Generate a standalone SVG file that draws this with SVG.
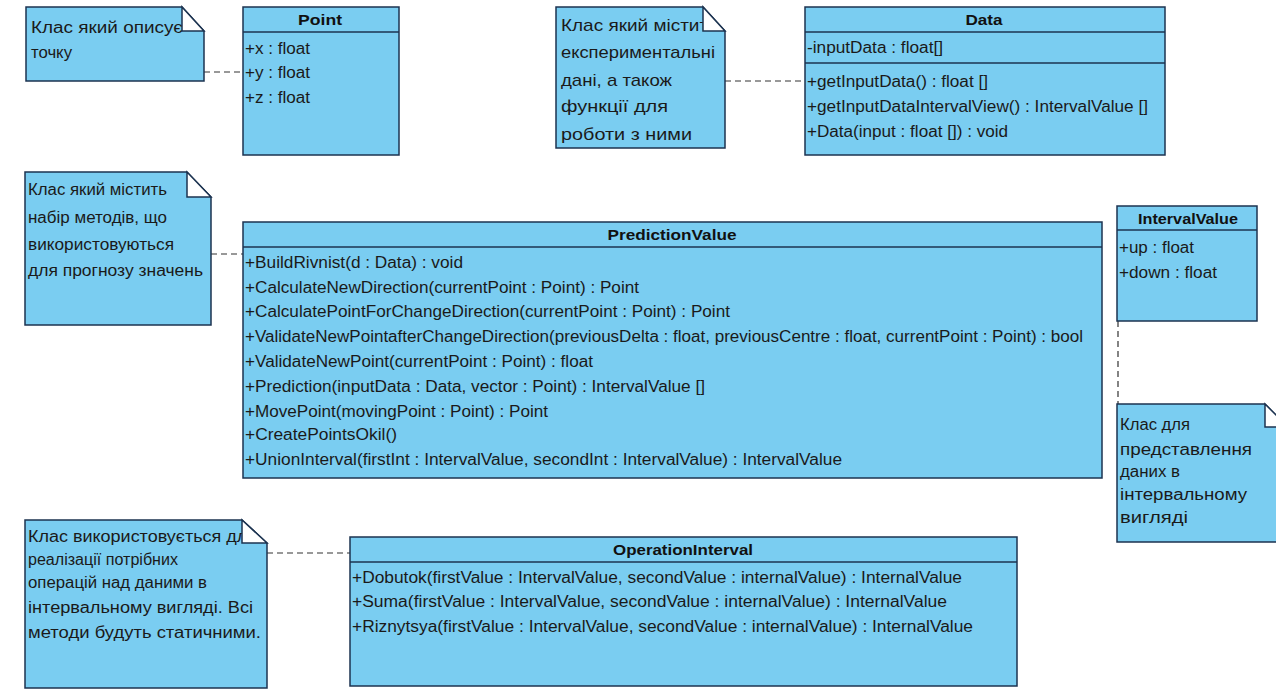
<svg xmlns="http://www.w3.org/2000/svg" width="1276" height="691" viewBox="0 0 1276 691">
  <style>
    .box { fill: #7acdf1; stroke: #1c3350; stroke-width: 1.5; }
    .sep { stroke: #1c3350; stroke-width: 1.5; fill: none; }
    .fold { fill: #ffffff; stroke: #1c3350; stroke-width: 1.5; stroke-linejoin: miter; }
    .hdr { font-family: "Liberation Sans", Arial, sans-serif; font-size: 15px; font-weight: bold; fill: #111111; }
    .mem { font-family: "Liberation Sans", Arial, sans-serif; font-size: 16px; fill: #1a1a1a; }
    .note { font-family: "Liberation Sans", Arial, sans-serif; font-size: 16px; fill: #1a1a1a; }
    .big { font-size: 17px; }
    .dash { stroke: #333333; stroke-width: 1.2; stroke-dasharray: 6 4; fill: none; }
  </style>
  <rect width="1276" height="691" fill="#ffffff"/>

  <!-- Connectors (note anchors) -->
  <g id="connectors">
    <line class="dash" x1="204" y1="72" x2="243" y2="72"/>
    <line class="dash" x1="725" y1="81" x2="805" y2="81"/>
    <line class="dash" x1="211" y1="254" x2="243" y2="254"/>
    <line class="dash" x1="1118" y1="321" x2="1118" y2="404"/>
    <line class="dash" x1="267" y1="553" x2="350" y2="553"/>
  </g>

  <!-- Note: Point description -->
  <g id="note-point">
    <path class="box" d="M26,7 H182 L204,31 V81 H26 Z"/>
    <text class="note" x="31" y="33" textLength="152" lengthAdjust="spacingAndGlyphs">Клас який описує</text>
    <text class="note" x="31" y="58" textLength="41" lengthAdjust="spacingAndGlyphs">точку</text>
    <path class="fold" d="M182,7 V31 H204 Z"/>
  </g>

  <!-- Class: Point -->
  <g id="class-point">
    <rect class="box" x="243" y="7" width="156" height="148"/>
    <line class="sep" x1="243" y1="32" x2="399" y2="32"/>
    <text class="hdr" x="320" y="25" text-anchor="middle" textLength="44" lengthAdjust="spacingAndGlyphs">Point</text>
    <text class="mem" x="245" y="54" textLength="65" lengthAdjust="spacingAndGlyphs">+x : float</text>
    <text class="mem" x="245" y="78" textLength="65" lengthAdjust="spacingAndGlyphs">+y : float</text>
    <text class="mem" x="245" y="103" textLength="65" lengthAdjust="spacingAndGlyphs">+z : float</text>
  </g>

  <!-- Note: Data description -->
  <g id="note-data">
    <path class="box" d="M556,7 H703 L725,31 V148 H556 Z"/>
    <text class="note big" x="561" y="31" textLength="157" lengthAdjust="spacingAndGlyphs">Клас який містить</text>
    <text class="note big" x="561" y="58" textLength="154" lengthAdjust="spacingAndGlyphs">експериментальні</text>
    <text class="note big" x="561" y="86" textLength="111" lengthAdjust="spacingAndGlyphs">дані, а також</text>
    <text class="note big" x="561" y="112" textLength="107" lengthAdjust="spacingAndGlyphs">функції для</text>
    <text class="note big" x="561" y="140" textLength="131" lengthAdjust="spacingAndGlyphs">роботи з ними</text>
    <path class="fold" d="M703,7 V31 H725 Z"/>
  </g>

  <!-- Class: Data -->
  <g id="class-data">
    <rect class="box" x="805" y="7" width="360" height="148"/>
    <line class="sep" x1="805" y1="32" x2="1165" y2="32"/>
    <line class="sep" x1="805" y1="63" x2="1165" y2="63"/>
    <text class="hdr" x="984" y="25" text-anchor="middle" textLength="37" lengthAdjust="spacingAndGlyphs">Data</text>
    <text class="mem" x="807" y="53" textLength="136" lengthAdjust="spacingAndGlyphs">-inputData : float[]</text>
    <text class="mem" x="807" y="87" textLength="181" lengthAdjust="spacingAndGlyphs">+getInputData() : float []</text>
    <text class="mem" x="807" y="112" textLength="341" lengthAdjust="spacingAndGlyphs">+getInputDataIntervalView() : IntervalValue []</text>
    <text class="mem" x="807" y="137" textLength="201" lengthAdjust="spacingAndGlyphs">+Data(input : float []) : void</text>
  </g>

  <!-- Note: PredictionValue description -->
  <g id="note-prediction">
    <path class="box" d="M25,172 H187 L211,197 V325 H25 Z"/>
    <text class="note" x="28" y="195" textLength="139" lengthAdjust="spacingAndGlyphs">Клас який містить</text>
    <text class="note" x="28" y="223" textLength="139" lengthAdjust="spacingAndGlyphs">набір методів, що</text>
    <text class="note" x="28" y="250" textLength="146" lengthAdjust="spacingAndGlyphs">використовуються</text>
    <text class="note" x="28" y="276" textLength="175" lengthAdjust="spacingAndGlyphs">для прогнозу значень</text>
    <path class="fold" d="M187,172 V197 H211 Z"/>
  </g>

  <!-- Class: PredictionValue -->
  <g id="class-prediction">
    <rect class="box" x="243" y="222" width="859" height="256"/>
    <line class="sep" x1="243" y1="247" x2="1102" y2="247"/>
    <text class="hdr" x="672" y="240" text-anchor="middle" textLength="129" lengthAdjust="spacingAndGlyphs">PredictionValue</text>
    <text class="mem" x="245" y="268" textLength="218" lengthAdjust="spacingAndGlyphs">+BuildRivnist(d : Data) : void</text>
    <text class="mem" x="245" y="293" textLength="394" lengthAdjust="spacingAndGlyphs">+CalculateNewDirection(currentPoint : Point) : Point</text>
    <text class="mem" x="245" y="317" textLength="485" lengthAdjust="spacingAndGlyphs">+CalculatePointForChangeDirection(currentPoint : Point) : Point</text>
    <text class="mem" x="245" y="342" textLength="838" lengthAdjust="spacingAndGlyphs">+ValidateNewPointafterChangeDirection(previousDelta : float, previousCentre : float, currentPoint : Point) : bool</text>
    <text class="mem" x="245" y="367" textLength="348" lengthAdjust="spacingAndGlyphs">+ValidateNewPoint(currentPoint : Point) : float</text>
    <text class="mem" x="245" y="392" textLength="460" lengthAdjust="spacingAndGlyphs">+Prediction(inputData : Data, vector : Point) : IntervalValue []</text>
    <text class="mem" x="245" y="417" textLength="303" lengthAdjust="spacingAndGlyphs">+MovePoint(movingPoint : Point) : Point</text>
    <text class="mem" x="245" y="440" textLength="152" lengthAdjust="spacingAndGlyphs">+CreatePointsOkil()</text>
    <text class="mem" x="245" y="465" textLength="597" lengthAdjust="spacingAndGlyphs">+UnionInterval(firstInt : IntervalValue, secondInt : IntervalValue) : IntervalValue</text>
  </g>

  <!-- Class: IntervalValue -->
  <g id="class-interval">
    <rect class="box" x="1117" y="206" width="140" height="115"/>
    <line class="sep" x1="1117" y1="230" x2="1257" y2="230"/>
    <text class="hdr" x="1188" y="224" text-anchor="middle" textLength="100" lengthAdjust="spacingAndGlyphs">IntervalValue</text>
    <text class="mem" x="1119" y="253" textLength="75" lengthAdjust="spacingAndGlyphs">+up : float</text>
    <text class="mem" x="1119" y="278" textLength="98" lengthAdjust="spacingAndGlyphs">+down : float</text>
  </g>

  <!-- Note: IntervalValue description -->
  <g id="note-interval">
    <path class="box" d="M1117,404 H1265 L1288,427 V542 H1117 Z"/>
    <text class="note" x="1120" y="430" textLength="70" lengthAdjust="spacingAndGlyphs">Клас для</text>
    <text class="note" x="1120" y="455" textLength="132" lengthAdjust="spacingAndGlyphs">представлення</text>
    <text class="note" x="1120" y="477" textLength="60" lengthAdjust="spacingAndGlyphs">даних в</text>
    <text class="note" x="1120" y="500" textLength="127" lengthAdjust="spacingAndGlyphs">інтервальному</text>
    <text class="note" x="1120" y="523" textLength="68" lengthAdjust="spacingAndGlyphs">вигляді</text>
    <path class="fold" d="M1265,404 V427 H1288 Z"/>
  </g>

  <!-- Note: OperationInterval description -->
  <g id="note-operation">
    <path class="box" d="M25,520 H242 L267,543 V688 H25 Z"/>
    <text class="note" x="28" y="542" textLength="229" lengthAdjust="spacingAndGlyphs">Клас використовується для</text>
    <text class="note" x="28" y="565" textLength="150" lengthAdjust="spacingAndGlyphs">реалізації потрібних</text>
    <text class="note" x="28" y="588" textLength="179" lengthAdjust="spacingAndGlyphs">операцій над даними в</text>
    <text class="note" x="28" y="613" textLength="225" lengthAdjust="spacingAndGlyphs">інтервальному вигляді. Всі</text>
    <text class="note" x="28" y="638" textLength="233" lengthAdjust="spacingAndGlyphs">методи будуть статичними.</text>
    <path class="fold" d="M242,520 V543 H267 Z"/>
  </g>

  <!-- Class: OperationInterval -->
  <g id="class-operation">
    <rect class="box" x="350" y="537" width="667" height="149"/>
    <line class="sep" x1="350" y1="562" x2="1017" y2="562"/>
    <text class="hdr" x="683" y="555" text-anchor="middle" textLength="140" lengthAdjust="spacingAndGlyphs">OperationInterval</text>
    <text class="mem" x="352" y="583" textLength="610" lengthAdjust="spacingAndGlyphs">+Dobutok(firstValue : IntervalValue, secondValue : internalValue) : InternalValue</text>
    <text class="mem" x="352" y="607" textLength="595" lengthAdjust="spacingAndGlyphs">+Suma(firstValue : IntervalValue, secondValue : internalValue) : InternalValue</text>
    <text class="mem" x="352" y="632" textLength="621" lengthAdjust="spacingAndGlyphs">+Riznytsya(firstValue : IntervalValue, secondValue : internalValue) : InternalValue</text>
  </g>
</svg>
